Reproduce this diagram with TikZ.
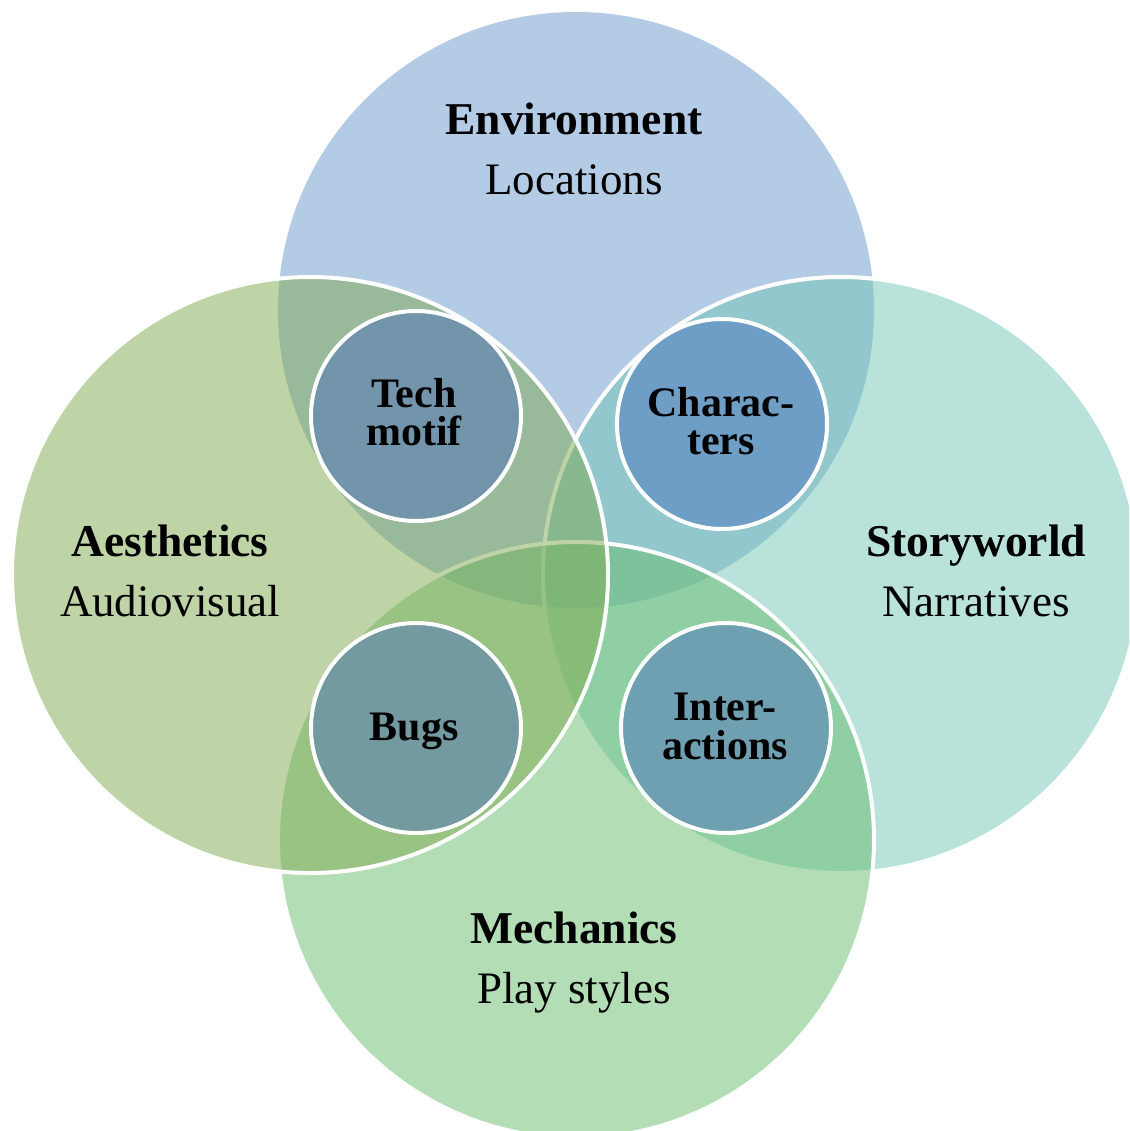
\documentclass[tikz,border=0pt]{standalone}
\usepackage{fontspec}
\setmainfont{Liberation Serif}
\definecolor{envc}{RGB}{105,153,205}
\definecolor{aesc}{RGB}{127,171,81}
\definecolor{stoc}{RGB}{115,199,183}
\definecolor{mecc}{RGB}{105,189,109}
\definecolor{techc}{RGB}{115,149,171}
\definecolor{charc}{RGB}{110,158,198}
\definecolor{bugc}{RGB}{114,154,160}
\definecolor{intc}{RGB}{110,160,177}
\tikzset{
  bigfill/.style={fill opacity=0.5},
  bigline/.style={draw=white, line width=4pt},
  small/.style={circle, draw=white, line width=4pt, minimum size=210pt, inner sep=0pt},
  title/.style={anchor=base, inner sep=0pt, font=\fontsize{45.5}{54}\selectfont\bfseries},
  sub/.style={anchor=base, inner sep=0pt, font=\fontsize{45}{54}\selectfont},
  slabel/.style={anchor=base, inner sep=0pt, font=\fontsize{42}{46}\selectfont\bfseries}
}
\begin{document}
\begin{tikzpicture}[x=1pt,y=-1pt]
\useasboundingbox (0,0) rectangle (1129,1131);
\clip (0,0) rectangle (1129,1131);
\fill[white] (0,0) rectangle (1129,1131);
\coordinate (cT) at (576,310);
\coordinate (cL) at (310,575);
\coordinate (cR) at (841,575);
\coordinate (cB) at (576,840);
% big circles
\fill[envc, bigfill] (cT) circle (298pt);
\fill[stoc, bigfill] (cR) circle (298pt);
\draw[bigline] (cR) circle (298pt);
\fill[mecc, bigfill] (cB) circle (298pt);
\draw[bigline] (cB) circle (298pt);
\fill[aesc, bigfill] (cL) circle (298pt);
\draw[bigline] (cL) circle (298pt);
% small circles
\node[small, fill=techc] (tech) at (416,416) {};
\node[small, fill=charc] (char) at (722,424) {};
\node[small, fill=bugc] (bugs) at (416,728) {};
\node[small, fill=intc] (inter) at (726,728) {};
% labels
\node[title] (envt) at (574,135) {Environment};
\node[sub] (envs) at (574,195) {Locations};
\node[title] (aest) at (170,556) {Aesthetics};
\node[sub] (aess) at (170,616) {Audiovisual};
\node[title] (stot) at (976,556) {Storyworld};
\node[sub] (stos) at (976,616) {Narratives};
\node[title] (mect) at (574,943) {Mechanics};
\node[sub] (mecs) at (574,1003) {Play styles};
\node[slabel] (tech1) at (414,407) {Tech};
\node[slabel] (tech2) at (414,445) {motif};
\node[slabel] (char1) at (721,416) {Charac-};
\node[slabel] (char2) at (721,454) {ters};
\node[slabel] (bugs1) at (414,740) {Bugs};
\node[slabel] (int1) at (725,720) {Inter-};
\node[slabel] (int2) at (725,759) {actions};
\end{tikzpicture}
\end{document}
